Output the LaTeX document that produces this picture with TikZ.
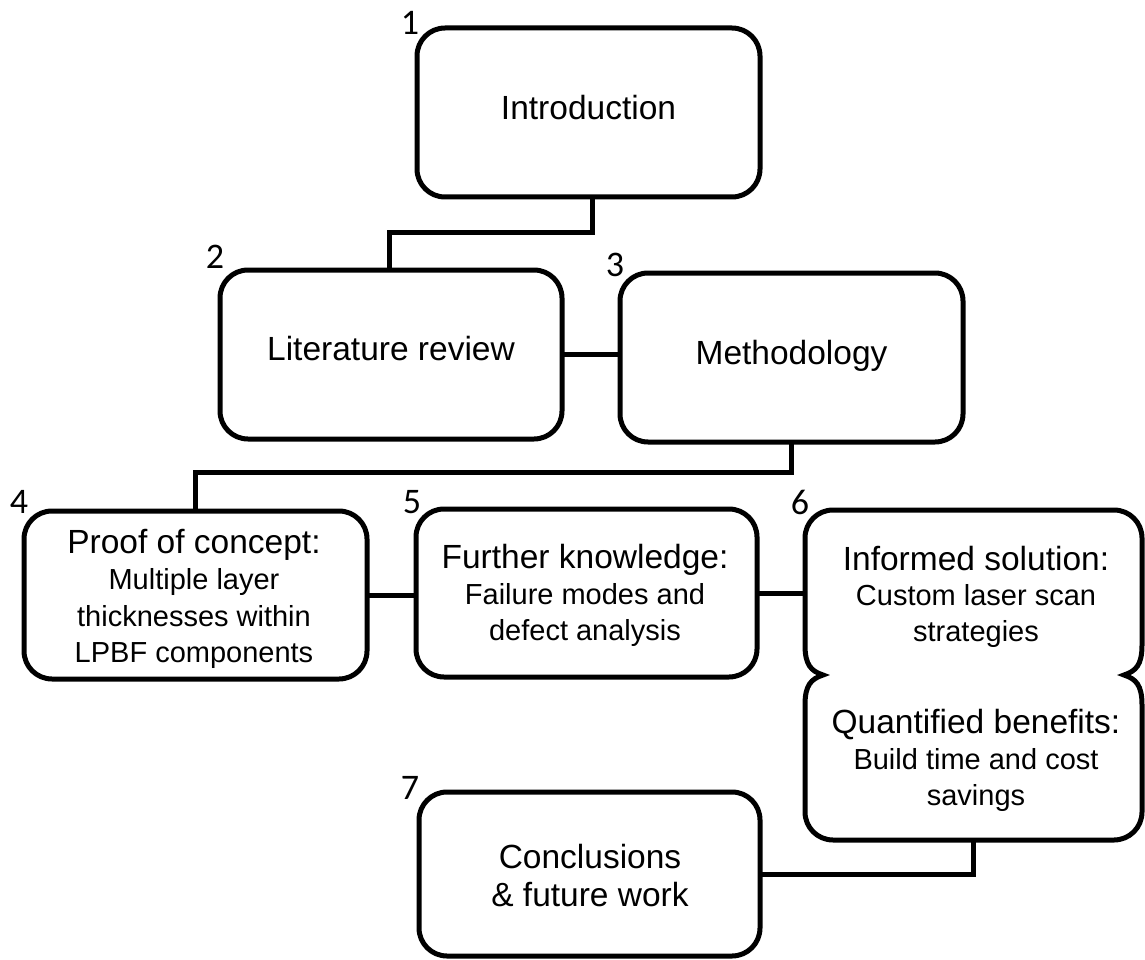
\documentclass[tikz,border=0pt]{standalone}
\usepackage{fontspec}
\setmainfont{Liberation Sans}
\newfontfamily\numfont{Carlito}
\begin{document}
\begin{tikzpicture}[x=1pt,y=-1pt,
  box/.style={draw, line width=5pt, rounded corners=28pt, outer sep=0pt, inner sep=0pt},
  ttl/.style={anchor=base, inner sep=0pt, font=\fontsize{33.5}{40}\selectfont},
  sub/.style={anchor=base, inner sep=0pt, font=\fontsize{29}{35}\selectfont},
  num/.style={inner sep=0pt, font=\numfont\fontsize{36}{40}\selectfont},
  link/.style={line width=5pt}]
\useasboundingbox (0,0) rectangle (1145,960);

% boxes
\node[box, minimum width=343pt, minimum height=169pt] (b1) at (588.5,112.5) {};
\node[box, minimum width=342pt, minimum height=169pt] (b2) at (391,354.5) {};
\node[box, minimum width=343pt, minimum height=169pt] (b3) at (791.5,357.5) {};
\node[box, minimum width=343pt, minimum height=168pt] (b4) at (195.5,595) {};
\node[box, minimum width=341pt, minimum height=168pt] (b5) at (586.5,593) {};
\node[inner sep=0pt, outer sep=0pt, minimum width=337pt, minimum height=330pt] (b6) at (973.5,675) {};
\node[box, minimum width=341pt, minimum height=164pt] (b7) at (589.5,874) {};

% merged box 6
\draw[line width=5pt]
  (805,645) -- (805,538) .. controls (805,522.5) and (817.5,510) .. (833,510)
  -- (1114,510) .. controls (1129.5,510) and (1142,522.5) .. (1142,538)
  -- (1142,645) .. controls (1142,665) and (1136,671) .. (1124,675)
  .. controls (1136,679) and (1142,685) .. (1142,705)
  -- (1142,812) .. controls (1142,827.5) and (1129.5,840) .. (1114,840)
  -- (833,840) .. controls (817.5,840) and (805,827.5) .. (805,812)
  -- (805,705) .. controls (805,685) and (811,679) .. (823,675)
  .. controls (811,671) and (805,665) .. (805,645) -- cycle;

% texts
\node[ttl] (t1) at (588.5,120) {Introduction};
\node[ttl] (t2) at (391,360) {Literature review};
\node[ttl] (t3) at (791.5,364) {Methodology};

\node[ttl] (t4a) at (194,553) {Proof of concept:};
\node[sub] (t4b) at (194,589) {Multiple layer};
\node[sub] (t4c) at (194,626) {thicknesses within};
\node[sub] (t4d) at (194,662) {LPBF components};

\node[ttl] (t5a) at (585,568) {Further knowledge:};
\node[sub] (t5b) at (585,604) {Failure modes and};
\node[sub] (t5c) at (585,640) {defect analysis};

\node[ttl] (t6a) at (976,570) {Informed solution:};
\node[sub] (t6b) at (976,605) {Custom laser scan};
\node[sub] (t6c) at (976,641) {strategies};
\node[ttl] (t6d) at (976,733) {Quantified benefits:};
\node[sub] (t6e) at (976,769) {Build time and cost};
\node[sub] (t6f) at (976,805) {savings};

\node[ttl] (t7a) at (590,868) {Conclusions};
\node[ttl] (t7b) at (590,906) {\& future work};

% numbers
\node[num] (n1) at (410,23) {1};
\node[num] (n2) at (215,257) {2};
\node[num] (n3) at (615,265) {3};
\node[num] (n4) at (19,502) {4};
\node[num] (n5) at (412,502) {5};
\node[num] (n6) at (800,502) {6};
\node[num] (n7) at (410,788) {7};

% connectors
\draw[link] ([xshift=4pt]b1.south) -- ++(0,35) -| ([xshift=-2pt]b2.north);
\draw[link] (b2.east) -- (b2.east -| b3.west);
\draw[link] (b3.south) -- ++(0,30) -| (b4.north);
\draw[link] (b4.east) -- (b4.east -| b5.west);
\draw[link] (b5.east) -- (b5.east -| b6.west);
\draw[link] (b6.south) |- (b7.east);
\end{tikzpicture}
\end{document}
